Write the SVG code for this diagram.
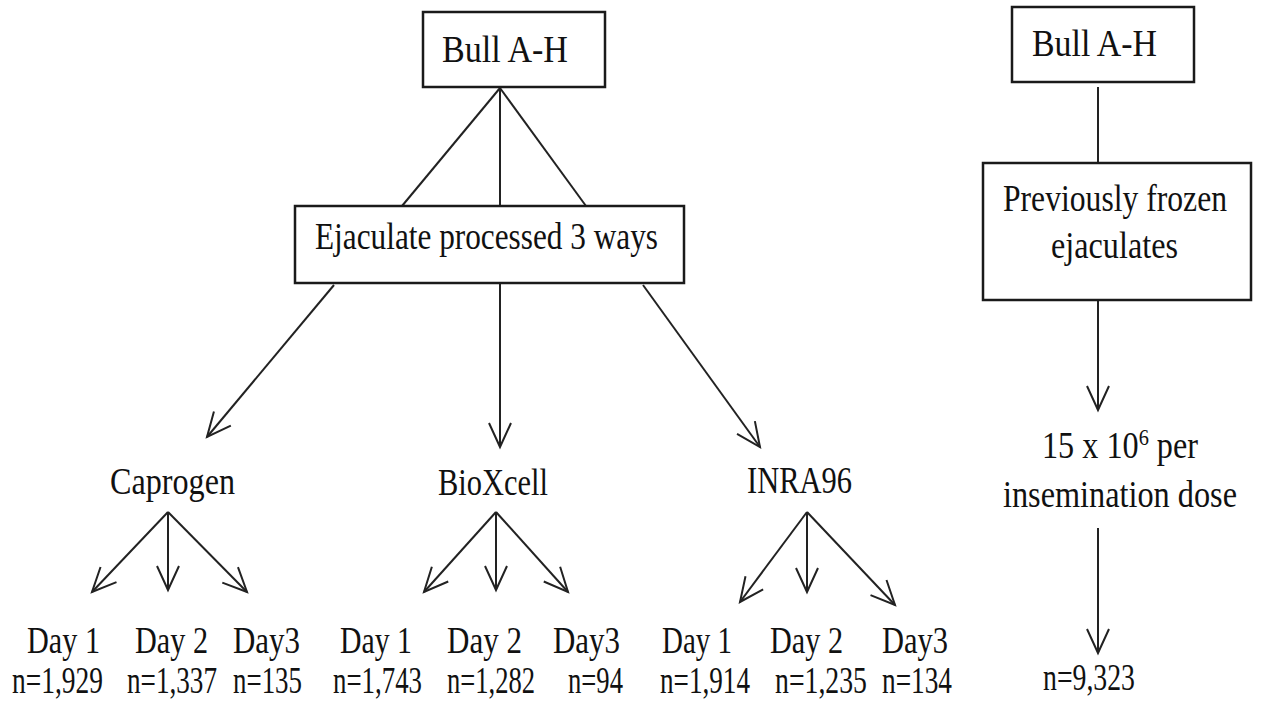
<svg xmlns="http://www.w3.org/2000/svg" width="1262" height="704" viewBox="0 0 1262 704">
<style>
.box{fill:#fff;stroke:#1a1a1a;stroke-width:2.5}
.t{font-family:"Liberation Serif","Times New Roman",serif;font-size:38px;fill:#111}
.c{fill:none;stroke:#222;stroke-width:2}
</style>
<defs>
<marker id="ah" markerUnits="userSpaceOnUse" markerWidth="28" markerHeight="26" viewBox="0 0 28 26" refX="25" refY="13" orient="auto">
<path d="M1,2 L25,13 L1,24" fill="none" stroke="#222" stroke-width="2"/>
</marker>
</defs>
<rect width="1262" height="704" fill="#fff"/>
<g id="connectors">
<line class="c" x1="500" y1="88" x2="402" y2="206"/>
<line class="c" x1="500" y1="88" x2="500" y2="206"/>
<line class="c" x1="500" y1="88" x2="586" y2="206"/>
<line class="c" x1="334" y1="285" x2="207" y2="437" marker-end="url(#ah)"/>
<line class="c" x1="500" y1="284" x2="500" y2="447" marker-end="url(#ah)"/>
<line class="c" x1="643" y1="285" x2="760" y2="447" marker-end="url(#ah)"/>
<line class="c" x1="168" y1="512" x2="92" y2="592" marker-end="url(#ah)"/>
<line class="c" x1="168" y1="512" x2="168" y2="590" marker-end="url(#ah)"/>
<line class="c" x1="168" y1="512" x2="247" y2="592" marker-end="url(#ah)"/>
<line class="c" x1="496" y1="512" x2="424" y2="592" marker-end="url(#ah)"/>
<line class="c" x1="496" y1="512" x2="496" y2="590" marker-end="url(#ah)"/>
<line class="c" x1="496" y1="512" x2="568" y2="592" marker-end="url(#ah)"/>
<line class="c" x1="807" y1="512" x2="740" y2="602" marker-end="url(#ah)"/>
<line class="c" x1="807" y1="512" x2="807" y2="592" marker-end="url(#ah)"/>
<line class="c" x1="807" y1="512" x2="895" y2="605" marker-end="url(#ah)"/>
<line class="c" x1="1098" y1="87" x2="1098" y2="163"/>
<line class="c" x1="1098" y1="300" x2="1098" y2="410" marker-end="url(#ah)"/>
<line class="c" x1="1098" y1="528" x2="1098" y2="653" marker-end="url(#ah)"/>
</g>
<g id="bull-left">
<rect class="box" x="423" y="12" width="182" height="75"/>
<text class="t" x="442" y="62" textLength="126" lengthAdjust="spacingAndGlyphs">Bull A-H</text>
</g>
<g id="ejaculate">
<rect class="box" x="295" y="206" width="389" height="77"/>
<text class="t" x="315" y="249" textLength="343" lengthAdjust="spacingAndGlyphs">Ejaculate processed 3 ways</text>
</g>
<g id="caprogen">
<text class="t" x="110" y="494" textLength="125" lengthAdjust="spacingAndGlyphs">Caprogen</text>
</g>
<g id="bioxcell">
<text class="t" x="438" y="495" textLength="110" lengthAdjust="spacingAndGlyphs">BioXcell</text>
</g>
<g id="inra96">
<text class="t" x="747" y="493" textLength="105" lengthAdjust="spacingAndGlyphs">INRA96</text>
</g>
<g id="cap-day1">
<text class="t" x="27" y="653" textLength="73" lengthAdjust="spacingAndGlyphs">Day 1</text>
<text class="t" x="12" y="693" textLength="91" lengthAdjust="spacingAndGlyphs">n=1,929</text>
</g>
<g id="cap-day2">
<text class="t" x="135" y="653" textLength="73" lengthAdjust="spacingAndGlyphs">Day 2</text>
<text class="t" x="127" y="693" textLength="90" lengthAdjust="spacingAndGlyphs">n=1,337</text>
</g>
<g id="cap-day3">
<text class="t" x="233" y="653" textLength="67" lengthAdjust="spacingAndGlyphs">Day3</text>
<text class="t" x="233" y="693" textLength="69" lengthAdjust="spacingAndGlyphs">n=135</text>
</g>
<g id="bio-day1">
<text class="t" x="340" y="653" textLength="72" lengthAdjust="spacingAndGlyphs">Day 1</text>
<text class="t" x="333" y="693" textLength="89" lengthAdjust="spacingAndGlyphs">n=1,743</text>
</g>
<g id="bio-day2">
<text class="t" x="447" y="653" textLength="75" lengthAdjust="spacingAndGlyphs">Day 2</text>
<text class="t" x="447" y="693" textLength="88" lengthAdjust="spacingAndGlyphs">n=1,282</text>
</g>
<g id="bio-day3">
<text class="t" x="553" y="653" textLength="67" lengthAdjust="spacingAndGlyphs">Day3</text>
<text class="t" x="568" y="693" textLength="55" lengthAdjust="spacingAndGlyphs">n=94</text>
</g>
<g id="inra-day1">
<text class="t" x="662" y="653" textLength="70" lengthAdjust="spacingAndGlyphs">Day 1</text>
<text class="t" x="660" y="693" textLength="90" lengthAdjust="spacingAndGlyphs">n=1,914</text>
</g>
<g id="inra-day2">
<text class="t" x="770" y="653" textLength="73" lengthAdjust="spacingAndGlyphs">Day 2</text>
<text class="t" x="775" y="693" textLength="92" lengthAdjust="spacingAndGlyphs">n=1,235</text>
</g>
<g id="inra-day3">
<text class="t" x="882" y="653" textLength="66" lengthAdjust="spacingAndGlyphs">Day3</text>
<text class="t" x="882" y="693" textLength="70" lengthAdjust="spacingAndGlyphs">n=134</text>
</g>
<g id="bull-right">
<rect class="box" x="1012" y="7" width="182" height="75"/>
<text class="t" x="1032" y="56" textLength="125" lengthAdjust="spacingAndGlyphs">Bull A-H</text>
</g>
<g id="frozen">
<rect class="box" x="983" y="163" width="268" height="137"/>
<text class="t" x="1003" y="211" textLength="224" lengthAdjust="spacingAndGlyphs">Previously frozen</text>
<text class="t" x="1051" y="258" textLength="127" lengthAdjust="spacingAndGlyphs">ejaculates</text>
</g>
<g id="dose">
<text class="t" x="1042" y="458" textLength="156" lengthAdjust="spacingAndGlyphs">15 x 10<tspan font-size="24" dy="-13">6</tspan><tspan dy="13"> per</tspan></text>
<text class="t" x="1003" y="507" textLength="234" lengthAdjust="spacingAndGlyphs">insemination dose</text>
</g>
<g id="total">
<text class="t" x="1043" y="690" textLength="92" lengthAdjust="spacingAndGlyphs">n=9,323</text>
</g>
</svg>
